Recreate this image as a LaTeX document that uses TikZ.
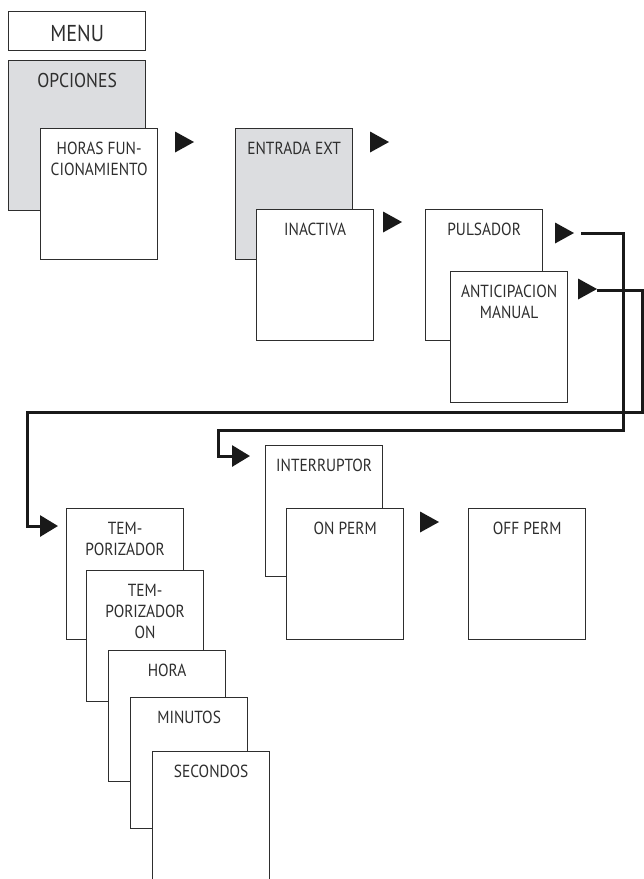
\documentclass[tikz,border=0pt]{standalone}
\usepackage{fontspec}
\setmainfont{PT Sans}[FakeStretch=0.88]
\usetikzlibrary{arrows.meta}

\definecolor{boxgray}{HTML}{DCDDE0}
\definecolor{ink}{HTML}{2E2E2E}

\tikzset{
  card/.style={draw=ink, line width=1.3pt, fill=white, anchor=north west,
    inner sep=0pt, minimum width=117pt, minimum height=131pt},
  title/.style={anchor=north, yshift=-14pt, inner sep=0pt, align=center,
    text=ink, font=\fontsize{17.5}{21}\selectfont},
  link/.style={draw=black!90, line width=3pt,
    -{Triangle[length=18pt, width=21pt]}}
}

\begin{document}
\begin{tikzpicture}[x=1pt, y=-1pt]
  \useasboundingbox (0,0) rectangle (644,879);

  % menu column
  \node[card, minimum width=137pt, minimum height=39pt,
    label={[title, font=\fontsize{23}{27}\selectfont]north:MENU}] (menu) at (8,11) {};
  \node[card, fill=boxgray, minimum width=137pt, minimum height=150pt,
    label={[title, yshift=1pt, font=\fontsize{20}{24}\selectfont]north:OPCIONES}] (opc) at (8,60) {};
  \node[card, label={[title]north:HORAS FUN-\\CIONAMIENTO}] (horas) at (40,128) {};

  \node[card, fill=boxgray, label={[title]north:ENTRADA EXT}] (entr) at (235,128) {};
  \node[card, label={[title]north:INACTIVA}] (inact) at (256,209) {};

  \node[card, label={[title]north:PULSADOR}] (puls) at (425,209) {};
  \node[card, label={[title]north:ANTICIPACION\\MANUAL}] (antic) at (450,271) {};

  % second level
  \node[card, label={[title]north:INTERRUPTOR}] (inter) at (265,445) {};
  \node[card, label={[title]north:ON PERM}] (onperm) at (286,508) {};
  \node[card, label={[title]north:OFF PERM}] (offperm) at (468,508) {};

  \node[card, label={[title]north:TEM-\\PORIZADOR}] (temp) at (66,508) {};
  \node[card, label={[title]north:TEM-\\PORIZADOR\\ON}] (tempon) at (86,570) {};
  \node[card, label={[title]north:HORA}] (hora) at (108,650) {};
  \node[card, label={[title]north:MINUTOS}] (min) at (130,697) {};
  \node[card, label={[title]north:SECONDOS}] (seg) at (152,751) {};

  % next arrows
  \foreach \x/\y in {175/142, 370/142, 383/222, 555/233, 578/289, 420/522} {
      \fill[black!90] (\x,\y-10.5) -- (\x+19,\y) -- (\x,\y+10.5) -- cycle;
    }

  \coordinate (pulsout) at (581,233);
  \coordinate (anticout) at (597,290);
  \coordinate (interin) at (250,456);
  \coordinate (tempin) at (58,526);

  \draw[link] (pulsout) -| (623,430) -| (218,456) -- (interin);
  \draw[link] (anticout) -| (642,412) -| (27,526) -- (tempin);
\end{tikzpicture}
\end{document}
